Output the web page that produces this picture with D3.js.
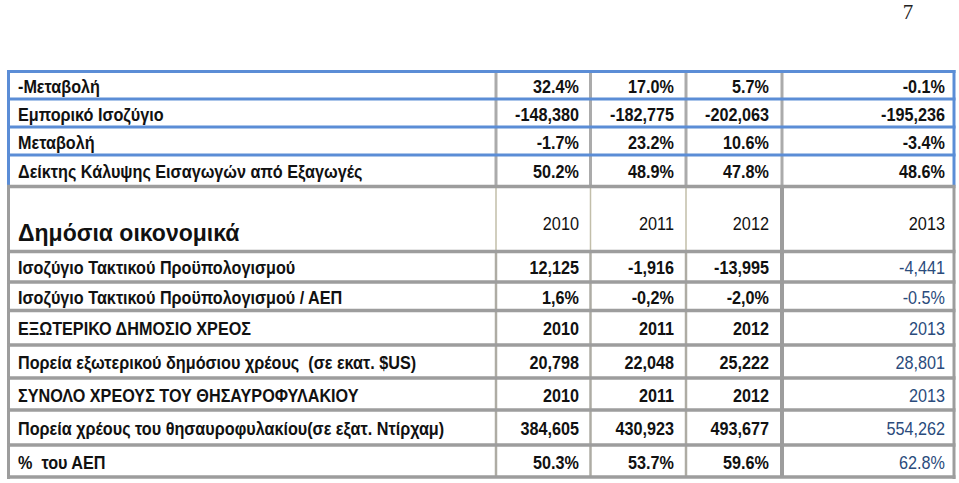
<!DOCTYPE html>
<html>
<head>
<meta charset="utf-8">
<script src="https://cdn.jsdelivr.net/npm/d3@7"></script>
<style>
  body { margin: 0; background: #fff; }
  svg { display: block; }
  text { font-family: "Liberation Sans", Arial, sans-serif; white-space: pre; }
</style>
</head>
<body>
<script>
// ---- data ----
const pageNumber = '7'
const years = ['2010', '2011', '2012', '2013']

const tradeLabels = [
  '-Μεταβολή',
  'Εμπορικό Ισοζύγιο',
  'Μεταβολή',
  'Δείκτης Κάλυψης Εισαγωγών από Εξαγωγές'
]
const tradeValues = [
  ['32.4%', '17.0%', '5.7%', '-0.1%'],
  ['-148,380', '-182,775', '-202,063', '-195,236'],
  ['-1.7%', '23.2%', '10.6%', '-3.4%'],
  ['50.2%', '48.9%', '47.8%', '48.6%']
]

const fiscalTitle = 'Δημόσια οικονομικά'
const fiscalLabels = [
  'Ισοζύγιο Τακτικού Προϋπολογισμού',
  'Ισοζύγιο Τακτικού Προϋπολογισμού / ΑΕΠ',
  'ΕΞΩΤΕΡΙΚΟ ΔΗΜΟΣΙΟ ΧΡΕΟΣ',
  'Πορεία εξωτερικού δημόσιου χρέους  (σε εκατ. $US)',
  'ΣΥΝΟΛΟ ΧΡΕΟΥΣ ΤΟΥ ΘΗΣΑΥΡΟΦΥΛΑΚΙΟΥ',
  'Πορεία χρέους του θησαυροφυλακίου(σε εξατ. Ντίρχαμ)',
  '%  του ΑΕΠ'
]
const fiscalValues = [
  ['12,125', '-1,916', '-13,995', '-4,441'],
  ['1,6%', '-0,2%', '-2,0%', '-0.5%'],
  ['2010', '2011', '2012', '2013'],
  ['20,798', '22,048', '25,222', '28,801'],
  ['2010', '2011', '2012', '2013'],
  ['384,605', '430,923', '493,677', '554,262'],
  ['50.3%', '53.7%', '59.6%', '62.8%']
]

// ---- layout ----
const W = 959, H = 483
const blue = '#5b8dd6', grey = '#9d9d9d', thin = '#c2bea9'
const ink = '#111', lastInk = '#2a4b7c'
const squeeze = 0.9

const svg = d3.select('body').append('svg')
  .attr('width', W).attr('height', H)

// column borders and text anchors
const colKeys = ['label'].concat(years)
const colEdge = d3.scaleOrdinal().domain(colKeys.concat(['end']))
  .range([8.5, 496, 590.5, 686, 782, 954])
const textX = d3.scaleOrdinal().domain(colKeys).range([18, 579, 674, 769, 945])

// row borders (line centres)
const tradeEdges = [71.5, 99, 127, 155, 186.5]
const fiscalEdges = [186.5, 251.5, 282, 310.5, 345, 378, 410, 445, 477]

const yTrade = d3.scaleOrdinal().domain(d3.range(tradeEdges.length)).range(tradeEdges)
const yFiscal = d3.scaleOrdinal().domain(d3.range(fiscalEdges.length)).range(fiscalEdges)

function cellText (g, x, y, str, opts) {
  g.append('text')
    .attr('transform', `translate(${x},${y}) scale(${opts.sx || squeeze},1)`)
    .attr('text-anchor', opts.anchor || 'start')
    .style('font-size', (opts.size || 18) + 'px')
    .style('font-weight', opts.weight || 'bold')
    .style('fill', opts.color || ink)
    .text(str)
}

function vline (g, x, y1, y2, color, w) {
  g.append('line')
    .attr('x1', x).attr('x2', x)
    .attr('y1', y1).attr('y2', y2)
    .attr('stroke', color).attr('stroke-width', w)
}

// page number
svg.append('text')
  .attr('x', 908).attr('y', 19)
  .attr('text-anchor', 'middle')
  .style('font-family', '"Liberation Serif", "Times New Roman", serif')
  .style('font-size', '21px')
  .style('fill', '#222')
  .text(pageNumber)

// ---- section 1: trade ----
let g1 = svg.append('g')
let top1 = yTrade(0), bot1 = yTrade(tradeEdges.length - 1)

years.forEach(k => vline(g1, colEdge(k), top1, bot1, '#ababab', 3))
vline(g1, colEdge('label'), top1 - 1.5, bot1, blue, 3)
vline(g1, colEdge('end'), top1 - 1.5, bot1, blue, 3)

// horizontal blue rules
d3.range(tradeEdges.length - 1).forEach(i => {
  g1.append('line')
    .attr('x1', colEdge('label') - 1.5).attr('x2', colEdge('end') + 1.5)
    .attr('y1', yTrade(i)).attr('y2', yTrade(i))
    .attr('stroke', blue).attr('stroke-width', 3)
})

tradeLabels.forEach((lab, i) => {
  let mid = (yTrade(i) + yTrade(i + 1)) / 2
  cellText(g1, textX('label'), mid + 7.5, lab, {})
  tradeValues[i].forEach((v, j) => {
    cellText(g1, textX(years[j]), mid + 7.5, v, {anchor: 'end'})
  })
})

// ---- section 2: public finances ----
let g2 = svg.append('g')
let top2 = yFiscal(0), bot2 = yFiscal(fiscalEdges.length - 1)

;['2010', '2011', '2012'].forEach(k => {
  vline(g2, colEdge(k), top2, yFiscal(1), thin, 1.5)
  vline(g2, colEdge(k), yFiscal(1), bot2, '#aeaca4', 2.5)
})
vline(g2, colEdge('2013'), top2, bot2, grey, 4)
vline(g2, colEdge('label'), top2, bot2 + 2, grey, 3)
vline(g2, colEdge('end'), top2, bot2 + 2, grey, 3)

d3.range(fiscalEdges.length).forEach(i => {
  g2.append('line')
    .attr('x1', colEdge('label') - 1.5).attr('x2', colEdge('end') + 1.5)
    .attr('y1', yFiscal(i)).attr('y2', yFiscal(i))
    .attr('stroke', grey).attr('stroke-width', 3.5)
})

// header row
cellText(g2, textX('label'), yFiscal(1) - 11, fiscalTitle, {size: 23, sx: 1})
years.forEach(y => {
  cellText(g2, textX(y), yFiscal(1) - 22, y, {anchor: 'end', weight: 'normal', size: 18.5, sx: 0.88})
})

fiscalLabels.forEach((lab, i) => {
  let mid = (yFiscal(i + 1) + yFiscal(i + 2)) / 2
  cellText(g2, textX('label'), mid + 7.5, lab, {})
  fiscalValues[i].forEach((v, j) => {
    cellText(g2, textX(years[j]), mid + 7.5, v, {
      anchor: 'end',
      weight: j === 3 ? 'normal' : 'bold',
      color: j === 3 ? lastInk : ink
    })
  })
})
</script>
</body>
</html>
